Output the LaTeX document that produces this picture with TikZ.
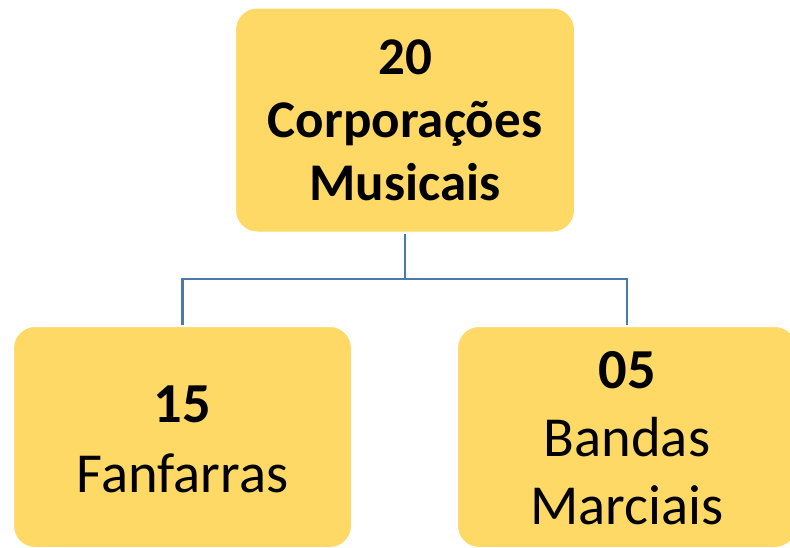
\documentclass[tikz,border=0pt]{standalone}
\usepackage{fontspec}
\setmainfont{Carlito}
\definecolor{boxfill}{HTML}{FFD966}
\definecolor{conncol}{RGB}{74,122,170}
\begin{document}
\begin{tikzpicture}[x=1pt,y=-1pt,
  orgbox/.style={rectangle, rounded corners=22pt, fill=boxfill, draw=white, line width=2pt,
    align=center, inner sep=0pt, text=black},
  conn/.style={draw=conncol, line width=2.8pt}]
\useasboundingbox (0,0) rectangle (790,547);
\clip (0,0) rectangle (790,547);
\node[orgbox, minimum width=340pt, minimum height=225pt,
  font=\fontsize{53}{63}\selectfont\bfseries] (top) at (405,120)
  {20\\Corporações\\Musicais};
\node[orgbox, minimum width=339pt, minimum height=222pt,
  font=\fontsize{56.5}{70}\selectfont] (left) at (182.5,437)
  {\rule{0pt}{42pt}\textbf{15}\\Fanfarras};
\node[orgbox, minimum width=340pt, minimum height=222pt,
  font=\fontsize{56.5}{68}\selectfont] (right) at (627,437)
  {\rule{0pt}{40pt}\textbf{05}\\Bandas\\Marciais};
\coordinate (j) at (405,279);
\draw[conn] (top.south) -- (j);
\draw[conn] (left.north) |- (j) -| (right.north);
\end{tikzpicture}
\end{document}
